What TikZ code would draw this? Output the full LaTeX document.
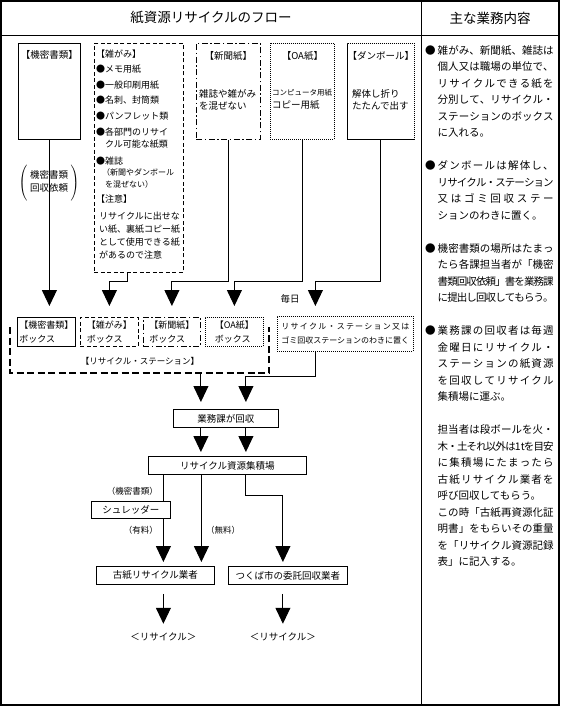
\documentclass[tikz,border=0pt]{standalone}
\usepackage{fontspec}
\setmainfont{Noto Sans CJK JP}
\usetikzlibrary{arrows.meta}

\newcommand\spreadline[2][116pt]{\makebox[#1][s]{\spreadstep#2\relax}}
\def\spreadstep#1#2{#1\ifx\relax#2\else\hskip 0pt plus 1fil minus 1fil\expandafter\spreadstep\fi#2}
\newcommand\onet{1t}

\tikzset{   boxsolid/.style={draw,line width=0.8pt,inner sep=2pt},
            boxdash/.style={draw,line width=0.8pt,inner sep=2pt,dash pattern=on 4pt off 2.5pt},
            boxdashdot/.style={draw,line width=0.8pt,inner sep=2pt,dash pattern=on 6pt off 2.5pt on 1.5pt off 2.5pt},
            boxdot/.style={draw,line width=0.8pt,inner sep=2pt,dash pattern=on 1pt off 1pt},
            boxtxt/.style={align=left,font=\fontsize{9}{14}\selectfont},
            txt/.style={inner sep=0pt,font=\fontsize{9.5}{12.5}\selectfont},
            tinytxt/.style={inner sep=0pt,font=\fontsize{8.5}{10}\selectfont},
            arr/.style={line width=0.9pt,-{Triangle[width=15pt,length=16pt]}},
            conn/.style={line width=0.9pt},
}

\begin{document}
\begin{tikzpicture}[x=1pt,y=-1pt]
    \useasboundingbox (0,0) rectangle (560,706);
    \draw[line width=1.2pt] (1,1) rectangle (559,705); % table frame
    \draw[line width=0.8pt] (1,35) -- (559,35);
    \draw[line width=0.8pt] (421,1) -- (421,705);

    \node[inner sep=0pt,font=\fontsize{13.5}{16}\selectfont] (title) at (211,18) {紙資源リサイクルのフロー};
    \node[inner sep=0pt,font=\fontsize{13.5}{16}\selectfont] (work) at (490,18) {主な業務内容};

    % paper sorts
    \node[boxsolid,minimum width=62pt,minimum height=96pt,anchor=north west] (kimitsu) at (18,43) {};
    \node[txt,anchor=north] (kimitsut) at (kimitsu.north |- 0,50) {【機密書類】};

    \node[boxdash,minimum width=89pt,minimum height=229pt,anchor=north west] (zatsu) at (94,43) {};
    \node[txt,anchor=north west,align=left,font=\fontsize{9}{13}\selectfont] (zatsut) at (96,50) {%
        【雑がみ】\\[2pt]
        ●メモ用紙\\[3pt]
        ●一般印刷用紙\\[2pt]
        ●名刺、封筒類\\[3pt]
        ●パンフレット類\\[3pt]
        ●各部門のリサイ\\[-1pt]
        \hspace*{9pt}クル可能な紙類\\[4pt]
        ●雑誌\\[-2pt]
        {\fontsize{8}{10}\selectfont\hspace*{6pt}（新聞やダンボール}\\[-1pt]
        {\fontsize{8}{10}\selectfont\hspace*{9pt}を混ぜない）}\\[2pt]
        【注意】\\[4pt]
        \hspace*{3pt}リサイクルに出せな\\
        \hspace*{3pt}い紙、裏紙コピー紙\\
        \hspace*{3pt}として使用できる紙\\
        \hspace*{3pt}があるので注意};

    \node[boxdashdot,minimum width=64pt,minimum height=96pt,anchor=north west] (shinbun) at (196,43) {};
    \node[txt,anchor=north] (shinbunt) at (shinbun.north |- 0,51) {【新聞紙】};
    \node[txt,anchor=north west,align=left] (shinbunb) at (199,89) {雑誌や雑がみ\\を混ぜない};

    \node[boxdot,minimum width=64pt,minimum height=96pt,anchor=north west] (oa) at (270,43) {};
    \node[txt,anchor=north] (oat) at (oa.north |- 0,51) {【OA紙】};
    \node[txt,anchor=north west,align=left] (oab) at (272,89) {{\fontsize{7.5}{9}\selectfont コンピュータ用紙}\\コピー用紙};

    \node[boxdot,dash pattern=on 1.2pt off 0.8pt,minimum width=67pt,minimum height=96pt,anchor=north west] (dan) at (347,43) {};
    \node[txt,anchor=north] (dant) at (dan.north |- 0,51) {【ダンボール】};
    \node[txt,anchor=north west,align=left] (danb) at (352,89) {解体し折り\\たたんで出す};

    \node[inner sep=0pt,font=\fontsize{9.5}{13}\selectfont] (irai) at (49,183)
        {$\left(\vrule height 21pt depth 17pt width 0pt\;\begin{tabular}{@{}c@{}}機密書類\\回収依頼\end{tabular}\;\right)$};

    % recycle station
    \node[boxsolid,boxtxt,minimum width=58pt,minimum height=29pt,anchor=north west] (kbox) at (17,317) {【機密書類】\\ボックス};
    \node[boxdash,boxtxt,minimum width=58pt,minimum height=29pt,anchor=north west] (zbox) at (80,317) {【雑がみ】\\ボックス};
    \node[boxdashdot,boxtxt,minimum width=57pt,minimum height=29pt,anchor=north west] (sbox) at (143,317) {【新聞紙】\\ボックス};
    \node[boxdot,boxtxt,minimum width=58pt,minimum height=29pt,anchor=north west] (obox) at (205,317) {【OA紙】\\ボックス};

    \draw[line width=2pt,dash pattern=on 7pt off 3.5pt] (10,327) -- (10,373) -- (269,373) -- (269,327); % station frame
    \coordinate (stbot) at (140,373);
    \node[tinytxt] (stlbl) at (140,361) {【リサイクル・ステーション】};

    \node[txt] (mainichi) at (290,299) {毎日};
    \node[boxdot,align=left,font=\fontsize{8}{14}\selectfont,minimum width=136pt,minimum height=35pt,anchor=north west] (eki) at (277,316)
        {\spreadline[128pt]{リサイクル・ステーション又は}\\ゴミ回収ステーションのわきに置く};

    % collection
    \node[boxsolid,font=\fontsize{9.5}{11}\selectfont,minimum width=105pt,minimum height=18pt,anchor=north west] (gyomu) at (173,409) {業務課が回収};
    \node[boxsolid,font=\fontsize{9.5}{11}\selectfont,minimum width=158pt,minimum height=18pt,anchor=north west] (shuseki) at (148,456) {リサイクル資源集積場};
    \node[boxsolid,font=\fontsize{9.5}{11}\selectfont,minimum width=79pt,minimum height=17pt,anchor=north west] (shred) at (91,501) {シュレッダー};
    \node[boxsolid,font=\fontsize{9.5}{11}\selectfont,minimum width=118pt,minimum height=18pt,anchor=north west] (koshi) at (96,566) {古紙リサイクル業者};
    \node[boxsolid,font=\fontsize{9.5}{11}\selectfont,minimum width=119pt,minimum height=18pt,anchor=north west] (tsukuba) at (228,566) {つくば市の委託回収業者};

    \node[tinytxt,anchor=east] (kimitsuc) at (158,491) {（機密書類）};
    \node[tinytxt,anchor=east] (yuryo) at (158,530) {（有料）};
    \node[tinytxt,anchor=west] (muryo) at (206,530) {（無料）};

    \coordinate (jog) at (0,281);
    \coordinate (jog2) at (0,376);
    \coordinate (jog3) at (0,495);
    \coordinate (recy) at (0,637);
    \coordinate (ekiin) at ([xshift=-30pt]eki.north);
    \coordinate (ekiout) at ([xshift=-30pt]eki.south);
    \coordinate (g1) at ([xshift=-25pt]gyomu.north);
    \coordinate (g2) at ([xshift=20pt]gyomu.north);
    \coordinate (k1) at ([xshift=8pt]koshi.north);
    \coordinate (k2) at ([xshift=46pt]koshi.north);
    \coordinate (t1) at ([xshift=-5pt]tsukuba.north);

    \node[txt] (rec1) at (k1 |- recy) {＜リサイクル＞};
    \node[txt] (rec2) at (t1 |- recy) {＜リサイクル＞};

    % arrows
    \draw[arr,shorten >=11pt] (kimitsu.south) -- (kimitsu.south |- kbox.north);
    \draw[arr,shorten >=11pt] ([xshift=-11pt]zatsu.south) |- (jog -| zbox.north) -- (zbox.north);
    \draw[arr,shorten >=11pt] (shinbun.south) |- (jog -| sbox.north) -- (sbox.north);
    \draw[arr,shorten >=11pt] (oa.south) |- (jog -| obox.north) -- (obox.north);
    \draw[arr,shorten >=10pt] (dan.south) |- (jog -| ekiin) -- (ekiin);
    \draw[arr,shorten >=7pt] (stbot -| g1) -- (g1);
    \draw[arr,shorten >=7pt] (ekiout) |- (jog2 -| g2) -- (g2);
    \draw[arr,shorten >=4pt] (gyomu.south -| g1) -- (shuseki.north -| g1);
    \draw[arr,shorten >=4pt] (gyomu.south -| g2) -- (shuseki.north -| g2);
    \draw[conn] (shuseki.south -| k1) -- (shred.north -| k1);
    \draw[arr,shorten >=4pt] (shred.south -| k1) -- (k1);
    \draw[arr,shorten >=4pt] (shuseki.south -| k2) -- (k2);
    \draw[arr,shorten >=4pt] (shuseki.south -| g2) |- (jog3 -| t1) -- (t1);
    \draw[arr,shorten <=9pt,shorten >=9pt] (koshi.south -| k1) -- (rec1.north);
    \draw[arr,shorten <=9pt,shorten >=9pt] (tsukuba.south -| t1) -- (rec2.north);

    % notes column
    \node[inner sep=0pt,anchor=north west,font=\fontsize{10.5}{16.5}\selectfont] (notes) at (425,42.5) {%
    \begin{tabular}{@{}l@{\hspace{2pt}}l@{}}
    ●&\spreadline{雑がみ、新聞紙、雑誌は}\\
     &\spreadline{個人又は職場の単位で、}\\
     &\spreadline{リサイクルできる紙を}\\
     &\spreadline{分別して、リサイクル・}\\
     &\spreadline{ステーションのボックス}\\
     &に入れる。\\
     &\\
    ●&\spreadline{ダンボールは解体し、}\\
     &\spreadline{リサイクル・ステーション}\\
     &\spreadline{又はゴミ回収ステー}\\
     &ションのわきに置く。\\
     &\\
    ●&\spreadline{機密書類の場所はたまっ}\\
     &\spreadline{たら各課担当者が「機密}\\
     &\spreadline{書類回収依頼」書を業務課}\\
     &\spreadline{に提出し回収してもらう。}\\
     &\\
    ●&\spreadline{業務課の回収者は毎週}\\
     &\spreadline{金曜日にリサイクル・}\\
     &\spreadline{ステーションの紙資源}\\
     &\spreadline{を回収してリサイクル}\\
     &集積場に運ぶ。\\
     &\\
     &\spreadline{担当者は段ボールを火・}\\
     &\spreadline{木・土それ以外は\onet を目安}\\
     &\spreadline{に集積場にたまったら}\\
     &\spreadline{古紙リサイクル業者を}\\
     &呼び回収してもらう。\\
     &\spreadline{この時「古紙再資源化証}\\
     &\spreadline{明書」をもらいその重量}\\
     &\spreadline{を「リサイクル資源記録}\\
     &表」に記入する。
    \end{tabular}};
\end{tikzpicture}
\end{document}
